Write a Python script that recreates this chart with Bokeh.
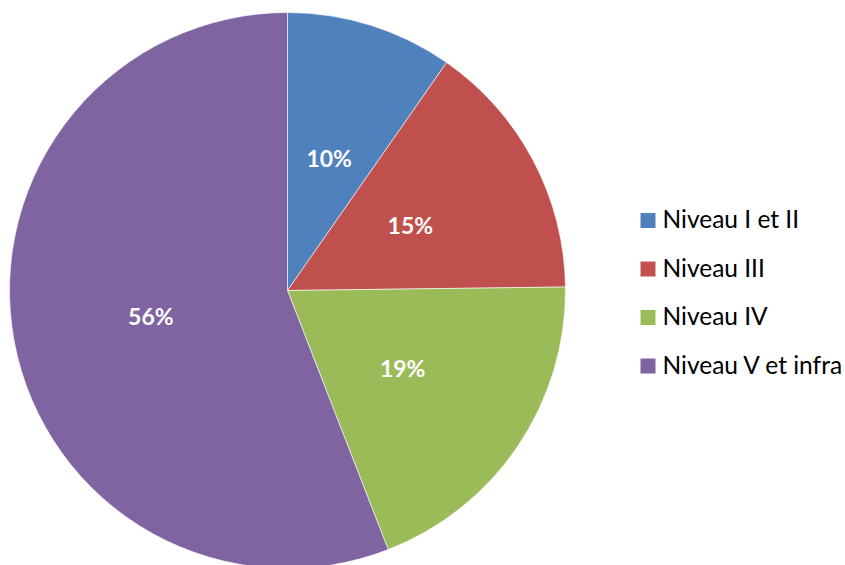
import math
from bokeh.plotting import figure
from bokeh.models import ColumnDataSource
from bokeh.core.properties import value
from bokeh.embed import file_html
from bokeh.resources import INLINE

categories = ["Niveau I et II", "Niveau III", "Niveau IV", "Niveau V et infra"]
shares = [9.7, 15.1, 19.3, 55.9]
colors = ["#4F81BD", "#C0504D", "#9BBB59", "#8064A2"]

W, H = 845, 565
CX, CY, R = 287, H - 290, 278

total = sum(shares)
starts, ends, lx, ly, labels = [], [], [], [], []
cum = 0.0
for s in shares:
    a0 = math.pi / 2 - 2 * math.pi * cum / total
    cum += s
    a1 = math.pi / 2 - 2 * math.pi * cum / total
    starts.append(a0)
    ends.append(a1)
    mid = (a0 + a1) / 2
    lx.append(CX + 0.5 * R * math.cos(mid))
    ly.append(CY + 0.5 * R * math.sin(mid))
    labels.append(f"{round(s / total * 100)}%")

src = ColumnDataSource(dict(start=starts, end=ends, color=colors, lx=lx, ly=ly, label=labels))

p = figure(width=W, height=H, x_range=(0, W), y_range=(0, H), output_backend="svg",
           toolbar_location=None, min_border=0, outline_line_color=None)
p.axis.visible = False
p.grid.visible = False

p.wedge(x=CX, y=CY, radius=R, start_angle="start", end_angle="end", direction="clock",
        fill_color="color", line_color="white", line_width=1, line_alpha=0.6, source=src)
p.text(x="lx", y="ly", text="label", source=src, text_color="white",
       text_font=value("Lato"), text_font_style="bold", text_font_size="23px",
       text_align="center", text_baseline="middle")

# legend
leg_y0 = H - 218
step = 48.5
leg_y = [leg_y0 - i * step for i in range(len(categories))]
leg_src = ColumnDataSource(dict(y=leg_y, sy=[y - 2 for y in leg_y], color=colors, name=categories))
p.rect(x=647.5, y="sy", width=15, height=15, fill_color="color", line_color=None, source=leg_src)
p.text(x=662, y="y", text="name", source=leg_src, text_color="black",
       text_font=value("Lato"), text_font_size="24.5px", text_align="left", text_baseline="middle")

open("out.html", "w").write(file_html(p, INLINE))
